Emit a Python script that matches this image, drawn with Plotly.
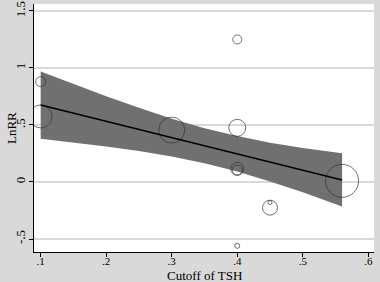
import plotly.graph_objects as go

# Study points
cutoff = [0.10, 0.10, 0.30, 0.40, 0.40, 0.40, 0.40, 0.45, 0.45, 0.40, 0.56]
lnrr = [0.88, 0.575, 0.455, 1.25, 0.475, 0.115, 0.105, -0.225, -0.18, -0.56, 0.01]
weight_px = [10, 23, 26, 9, 17, 13, 10, 15, 4, 5, 33]

# Fitted meta-regression line and confidence band
fit_x = [0.10, 0.15, 0.20, 0.25, 0.30, 0.35, 0.40, 0.45, 0.50, 0.56]
fit_y = [0.675, 0.604, 0.532, 0.461, 0.389, 0.318, 0.247, 0.175, 0.104, 0.018]
ci_hi = [0.970, 0.860, 0.752, 0.651, 0.555, 0.472, 0.403, 0.345, 0.299, 0.252]
ci_lo = [0.380, 0.348, 0.312, 0.271, 0.223, 0.164, 0.091, 0.005, -0.091, -0.216]

x_ticks = [0.1, 0.2, 0.3, 0.4, 0.5, 0.6]
x_labels = [".1", ".2", ".3", ".4", ".5", ".6"]
y_ticks = [-0.5, 0, 0.5, 1, 1.5]
y_labels = ["-.5", "0", ".5", "1", "1.5"]

fig = go.Figure()
fig.add_trace(go.Scatter(x=fit_x + fit_x[::-1], y=ci_hi + ci_lo[::-1], fill="toself",
                         fillcolor="#707070", line=dict(width=0), mode="lines",
                         hoverinfo="skip", showlegend=False))
fig.add_trace(go.Scatter(x=cutoff, y=lnrr, mode="markers",
                         marker=dict(size=weight_px, color="rgba(0,0,0,0)",
                                     line=dict(color="#333333", width=1)),
                         showlegend=False))
fig.add_trace(go.Scatter(x=fit_x, y=fit_y, mode="lines",
                         line=dict(color="black", width=1.6), showlegend=False))

font = dict(family="Liberation Serif", size=12, color="black")
fig.update_layout(
    width=380, height=282,
    margin=dict(l=34, r=6, t=4, b=30, autoexpand=False),
    paper_bgcolor="#d9d9d9", plot_bgcolor="white",
    font=font,
    xaxis=dict(range=[0.0898, 0.6087], tickvals=x_ticks, ticktext=x_labels,
               showgrid=False, zeroline=False, showline=True, linecolor="black",
               linewidth=1, ticks="outside", ticklen=4, tickcolor="black",
               automargin=False, tickfont=dict(size=11), ticklabelstandoff=-5),
    yaxis=dict(range=[-0.614, 1.561], tickvals=y_ticks, ticktext=y_labels,
               tickangle=-90, showgrid=True, gridcolor="#d9d9d9", gridwidth=1.5,
               zeroline=False, showline=True, linecolor="black", linewidth=1,
               ticks="outside", ticklen=4, tickcolor="black",
               automargin=False, tickfont=dict(size=13), ticklabelstandoff=-1),
    annotations=[
        dict(text="Cutoff of TSH", x=0.5, y=0, xref="paper", yref="paper",
             showarrow=False, font=dict(size=13), yanchor="middle", yshift=-23,
             borderpad=0),
        dict(text="LnRR", xref="paper", yref="paper", x=0, y=0.5, showarrow=False,
             textangle=-90, font=dict(size=13), xanchor="center", yanchor="middle",
             xshift=-23, borderpad=0),
    ],
)
fig.write_html("out.html", config={"displayModeBar": False},
               post_script="document.body.style.margin='0';document.body.style.overflow='hidden';")
